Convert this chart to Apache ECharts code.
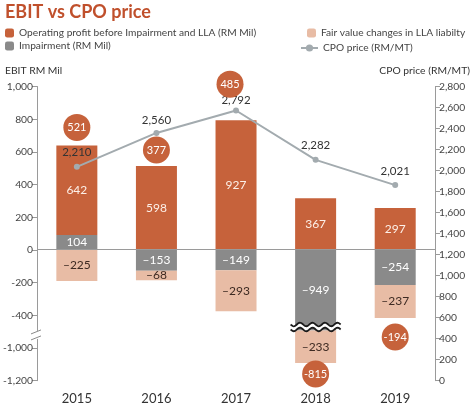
<!DOCTYPE html>
<html>
<head>
<meta charset="utf-8">
<script src="https://cdn.jsdelivr.net/npm/echarts@6/dist/echarts.min.js"></script>
<style>
html,body{margin:0;padding:0;background:#fff;}
#c{width:474px;height:411px;}
</style>
</head>
<body>
<div id="c"></div>
<script>
const categories = ['2015', '2016', '2017', '2018', '2019'];
const operatingProfit = [642, 598, 927, 367, 297];
const impairment = [104, -153, -149, -949, -254];
const fairValue = [-225, -68, -293, -233, -237];
const cpoPrice = [2210, 2560, 2792, 2282, 2021];
const ebit = [521, 377, 485, -815, -194];

const ORANGE = '#c6623b', GRAY = '#8a8a8a', PINK = '#e8bca5', LINE = '#a3abaf';
const FONT = 'Lato';
const circleOffsets = [[0, -18], [0, -16], [-6, -36], [0, 11], [0, 19]];
const lineLabelDist = [6, 4, 1, 6, 5];

function fmt(v) {
  const s = Math.abs(v).toLocaleString('en-US');
  return v < 0 ? '\u2013' + s : s;
}

const anchors = categories.map((c, i) => {
  const parts = [operatingProfit[i], impairment[i], fairValue[i]];
  const pos = parts.filter(v => v > 0).reduce((a, b) => a + b, 0);
  const neg = parts.filter(v => v < 0).reduce((a, b) => a + b, 0);
  return ebit[i] >= 0 ? pos : neg;
});

const chart = echarts.init(document.getElementById('c'));
const axisLineStyle = { color: '#9a9a9a', width: 1 };
const legendText = { fontFamily: FONT, fontSize: 10.2, color: '#444' };
chart.setOption({
  animation: false,
  textStyle: { fontFamily: FONT },
  title: [
    { text: 'EBIT vs CPO price', left: 5, top: 3, padding: 0, textStyle: { fontFamily: FONT, fontSize: 18, fontWeight: 'bold', color: '#c0502c' } },
    { text: 'EBIT RM Mil', left: 5, top: 66, padding: 0, textStyle: { fontFamily: FONT, fontSize: 10.3, fontWeight: 'normal', color: '#333' } },
    { text: 'CPO price (RM/MT)', right: 4, top: 66, padding: 0, textStyle: { fontFamily: FONT, fontSize: 10.3, fontWeight: 'normal', color: '#333' } }
  ],
  legend: [
    { orient: 'vertical', left: 5, top: 28, padding: 0, itemWidth: 9, itemHeight: 9, itemGap: 3, textStyle: legendText,
      data: ['Operating profit before Impairment and LLA (RM Mil)', 'Impairment (RM Mil)'] },
    { orient: 'vertical', left: 307, top: 28, padding: 0, itemWidth: 9, itemHeight: 9, itemGap: 3, textStyle: legendText,
      data: ['Fair value changes in LLA liabilty'] },
    { orient: 'vertical', left: 300, top: 43, padding: 0, itemWidth: 17, itemHeight: 9, itemGap: 3, textStyle: legendText,
      data: ['CPO price (RM/MT)'] }
  ],
  grid: { left: 36, right: 39, top: 86.5, bottom: 30.3 },
  xAxis: {
    type: 'category', data: categories,
    axisLine: { show: false }, axisTick: { show: false },
    axisLabel: { margin: 12, fontSize: 13, color: '#333', fontFamily: FONT }
  },
  yAxis: [
    { type: 'value', position: 'left', min: -800, max: 1000, interval: 200,
      splitLine: { show: false },
      axisLine: { show: true, lineStyle: axisLineStyle },
      axisTick: { show: true, length: 5, lineStyle: axisLineStyle },
      axisLabel: { margin: 4, fontSize: 10.3, color: '#444', fontFamily: FONT,
        formatter: v => { const t = v <= -600 ? v - 400 : v; return (t < 0 ? '-' : '') + Math.abs(t).toLocaleString('en-US'); } } },
    { type: 'value', position: 'left', show: false, min: -1309, max: 1168,
      breaks: [{ start: -949, end: -530, gap: 50 }],
      splitLine: { show: false } },
    { type: 'value', position: 'right', min: 0, max: 2800, interval: 200,
      splitLine: { show: false },
      axisLine: { show: true, lineStyle: axisLineStyle },
      axisTick: { show: true, length: 5, lineStyle: axisLineStyle },
      axisLabel: { margin: 4, fontSize: 10.3, color: '#444', fontFamily: FONT,
        formatter: v => v.toLocaleString('en-US') } },
    { type: 'value', position: 'right', show: false, min: 0, max: 3040, splitLine: { show: false } }
  ],
  series: [
    { name: 'Impairment (RM Mil)', type: 'bar', stack: 'ebit', yAxisIndex: 1, barWidth: 41,
      data: impairment, itemStyle: { color: GRAY },
      label: { show: true, position: 'inside', color: '#fff', fontSize: 12, fontFamily: FONT, formatter: p => fmt(p.value) },
      markLine: { silent: true, symbol: 'none', label: { show: false },
        lineStyle: { color: '#9a9a9a', type: 'solid', width: 1 }, data: [{ yAxis: 0 }] } },
    { name: 'Operating profit before Impairment and LLA (RM Mil)', type: 'bar', stack: 'ebit', yAxisIndex: 1, barWidth: 41,
      data: operatingProfit, itemStyle: { color: ORANGE },
      label: { show: true, position: 'inside', color: '#fdf0e8', fontSize: 12, fontFamily: FONT, formatter: p => fmt(p.value) } },
    { name: 'Fair value changes in LLA liabilty', type: 'bar', stack: 'ebit', yAxisIndex: 1, barWidth: 41,
      data: fairValue, itemStyle: { color: PINK },
      label: { show: true, position: 'inside', color: '#3d2a22', fontSize: 12, fontFamily: FONT, formatter: p => fmt(p.value) } },
    { name: 'CPO price (RM/MT)', type: 'line', yAxisIndex: 3, z: 5,
      data: cpoPrice.map((v, i) => ({ value: v, label: { distance: lineLabelDist[i] } })),
      symbol: 'circle', symbolSize: 6,
      lineStyle: { color: LINE, width: 2 }, itemStyle: { color: LINE },
      label: { show: true, position: 'top', color: '#333', fontSize: 11.5, fontFamily: FONT,
        formatter: p => p.value.toLocaleString('en-US') } },
    { name: 'EBIT', type: 'scatter', yAxisIndex: 1, z: 6, symbol: 'circle', symbolSize: 27,
      itemStyle: { color: ORANGE, opacity: 1 },
      data: anchors.map((a, i) => ({ value: [i, a], symbolOffset: circleOffsets[i] })),
      label: { show: true, position: 'inside', color: '#fff', fontSize: 11, fontFamily: FONT,
        formatter: p => String(ebit[p.dataIndex]) } }
  ]
});

// break decorations, positioned through the chart's own scales
function wave(x0, x1, y, amp, period) {
  const pts = [];
  for (let x = x0; x <= x1 + 0.01; x += 1) pts.push([x, y + amp * Math.sin((x - x0) / period * 2 * Math.PI)]);
  return pts;
}
const axisBreak = chart.convertToPixel({ yAxisIndex: 0 }, -520);
const top2018 = chart.convertToPixel({ xAxisIndex: 0, yAxisIndex: 1 }, [3, -530]);
const bot2018 = chart.convertToPixel({ xAxisIndex: 0, yAxisIndex: 1 }, [3, -949]);
const bx0 = top2018[0] - 25, bx1 = top2018[0] + 25;
const upper = wave(bx0, bx1, top2018[1] + 1, 1.8, 12.5);
const lower = wave(bx0, bx1, bot2018[1] - 1, 1.8, 12.5);
chart.setOption({
  graphic: [
    { type: 'rect', shape: { x: 30, y: axisBreak - 4, width: 12, height: 8 }, style: { fill: '#fff' }, z: 100 },
    { type: 'line', shape: { x1: 31, y1: axisBreak - 1, x2: 41, y2: axisBreak - 5 }, style: { stroke: '#8a8a8a', lineWidth: 1 }, z: 101 },
    { type: 'line', shape: { x1: 31, y1: axisBreak + 5, x2: 41, y2: axisBreak + 1 }, style: { stroke: '#8a8a8a', lineWidth: 1 }, z: 101 },
    { type: 'polygon', shape: { points: upper.concat(lower.slice().reverse()) }, style: { fill: '#fff' }, z: 100 },
    { type: 'polyline', shape: { points: upper }, style: { stroke: '#1a1a1a', lineWidth: 1.8, fill: null }, z: 101 },
    { type: 'polyline', shape: { points: lower }, style: { stroke: '#1a1a1a', lineWidth: 1.8, fill: null }, z: 101 }
  ]
});
</script>
</body>
</html>
